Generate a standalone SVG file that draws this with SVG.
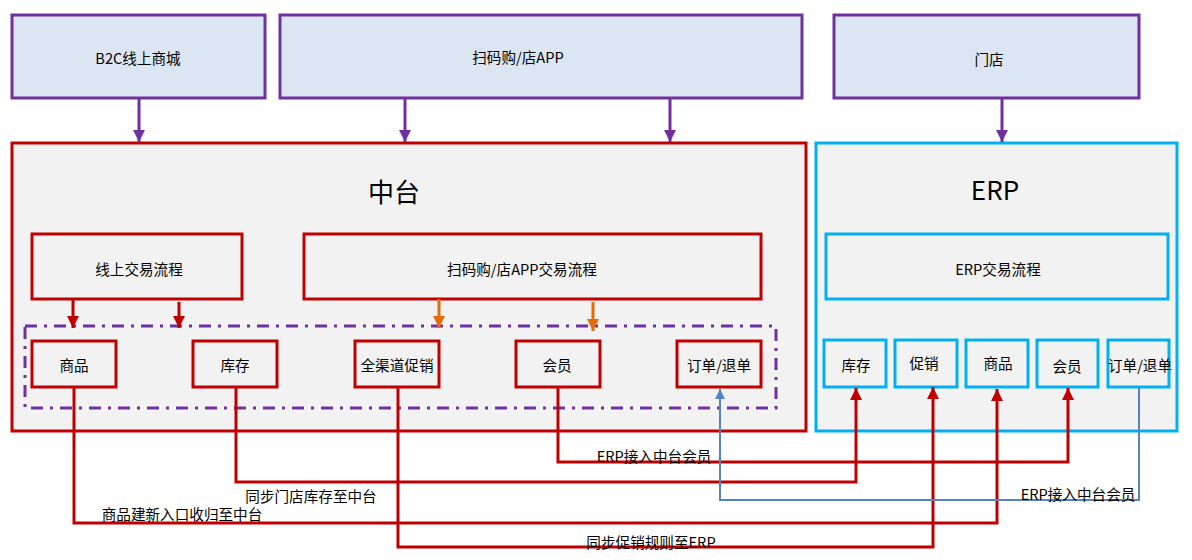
<svg xmlns="http://www.w3.org/2000/svg" width="1192" height="560" viewBox="0 0 1192 560">
<style>
text{font-family:"Noto Sans CJK SC","Liberation Sans",sans-serif;fill:#000;text-anchor:middle;dominant-baseline:central}
.t{font-size:14.6px}
.big{font-size:26px}
.top{fill:#DCE6F2;stroke:#7030A0;stroke-width:3}
.red{fill:#F2F2F2;stroke:#C00000;stroke-width:3}
.cy{fill:#F2F2F2;stroke:#00B0F0;stroke-width:3}
.pa{stroke:#7030A0;stroke-width:3;fill:none}
.ra{stroke:#C00000;stroke-width:3;fill:none}
.oa{stroke:#E46C0A;stroke-width:3;fill:none}
.ba{stroke:#5682C0;stroke-width:2;fill:none}
</style>
<defs>
<marker id="mp" viewBox="0 0 10 10" refX="10" refY="5" markerWidth="4" markerHeight="4" orient="auto" markerUnits="strokeWidth"><path d="M0,0L10,5L0,10z" fill="#7030A0"/></marker>
<marker id="mr" viewBox="0 0 10 10" refX="10" refY="5" markerWidth="4" markerHeight="4" orient="auto" markerUnits="strokeWidth"><path d="M0,0L10,5L0,10z" fill="#C00000"/></marker>
<marker id="mo" viewBox="0 0 10 10" refX="10" refY="5" markerWidth="4" markerHeight="4" orient="auto" markerUnits="strokeWidth"><path d="M0,0L10,5L0,10z" fill="#E46C0A"/></marker>
<marker id="mb" viewBox="0 0 10 10" refX="10" refY="5" markerWidth="5" markerHeight="5" orient="auto" markerUnits="strokeWidth"><path d="M0,0L10,5L0,10z" fill="#5682C0"/></marker>
</defs>

<g id="b2c"><rect class="top" x="12" y="15" width="253" height="83"/><text class="t" x="138" y="57">B2C线上商城</text></g>
<g id="scan"><rect class="top" x="280" y="15" width="522" height="83"/><text class="t" x="518" y="56">扫码购/店APP</text></g>
<g id="store"><rect class="top" x="834" y="15" width="305" height="83"/><text class="t" x="989" y="58">门店</text></g>

<g id="zhongtai"><rect class="red" x="12" y="143" width="794" height="288"/><text class="big" x="394" y="190">中台</text></g>
<g id="erp"><rect class="cy" x="816" y="143" width="361" height="288"/><text class="big" x="995" y="188">ERP</text></g>

<g id="online-flow"><rect class="red" x="32" y="234" width="210" height="65"/><text class="t" x="139" y="268">线上交易流程</text></g>
<g id="scan-flow"><rect class="red" x="304" y="234" width="457" height="65"/><text class="t" x="522" y="268">扫码购/店APP交易流程</text></g>
<g id="erp-flow"><rect class="cy" x="826" y="234" width="342" height="65"/><text class="t" x="998" y="268">ERP交易流程</text></g>

<g id="zt-group"><rect x="25" y="326" width="751" height="82" fill="none" stroke="#7030A0" stroke-width="3" stroke-dasharray="12 7 3 7"/></g>

<g id="zt-goods"><rect class="red" x="32" y="341" width="84" height="46"/><text class="t" x="74" y="364">商品</text></g>
<g id="zt-stock"><rect class="red" x="193" y="341" width="84" height="46"/><text class="t" x="235" y="364">库存</text></g>
<g id="zt-promo"><rect class="red" x="355" y="341" width="84" height="46"/><text class="t" x="397" y="364">全渠道促销</text></g>
<g id="zt-member"><rect class="red" x="516" y="341" width="84" height="46"/><text class="t" x="557" y="364">会员</text></g>
<g id="zt-order"><rect class="red" x="677" y="341" width="84" height="46"/><text class="t" x="719" y="364">订单/退单</text></g>

<g id="erp-stock"><rect class="cy" x="824" y="340" width="62" height="47"/><text class="t" x="856" y="364">库存</text></g>
<g id="erp-promo"><rect class="cy" x="895" y="340" width="62" height="47"/><text class="t" x="924" y="362">促销</text></g>
<g id="erp-goods"><rect class="cy" x="966" y="340" width="62" height="47"/><text class="t" x="998" y="362">商品</text></g>
<g id="erp-member"><rect class="cy" x="1037" y="340" width="61" height="47"/><text class="t" x="1067" y="365">会员</text></g>
<g id="erp-order"><rect class="cy" x="1108" y="340" width="61" height="47"/><text class="t" x="1140" y="364">订单/退单</text></g>

<g id="connectors">
<line class="pa" x1="139" y1="98" x2="139" y2="142" marker-end="url(#mp)"/>
<line class="pa" x1="405" y1="98" x2="405" y2="142" marker-end="url(#mp)"/>
<line class="pa" x1="670" y1="98" x2="670" y2="142" marker-end="url(#mp)"/>
<line class="pa" x1="1002" y1="98" x2="1002" y2="142" marker-end="url(#mp)"/>
<line class="ra" x1="73" y1="299" x2="73" y2="328" marker-end="url(#mr)"/>
<line class="ra" x1="179" y1="302" x2="179" y2="328" marker-end="url(#mr)"/>
<line class="oa" x1="439" y1="299" x2="439" y2="328" marker-end="url(#mo)"/>
<line class="oa" x1="593" y1="302" x2="593" y2="331" marker-end="url(#mo)"/>

<polyline class="ra" points="74,388 74,523 997,523 997,389" marker-end="url(#mr)"/>
<polyline class="ra" points="236,388 236,482 856,482 856,388" marker-end="url(#mr)"/>
<polyline class="ra" points="398,388 398,547 933,547 933,387" marker-end="url(#mr)"/>
<polyline class="ra" points="558,388 558,462 1068,462 1068,388" marker-end="url(#mr)"/>
<polyline class="ba" points="1139,388 1139,500 720,500 720,389" marker-end="url(#mb)"/>

<text class="t" x="182" y="513">商品建新入口收归至中台</text>
<text class="t" x="311" y="495">同步门店库存至中台</text>
<text class="t" x="651" y="541">同步促销规则至ERP</text>
<text class="t" x="654" y="455">ERP接入中台会员</text>
<text class="t" x="1078" y="493">ERP接入中台会员</text>
</g>
</svg>
